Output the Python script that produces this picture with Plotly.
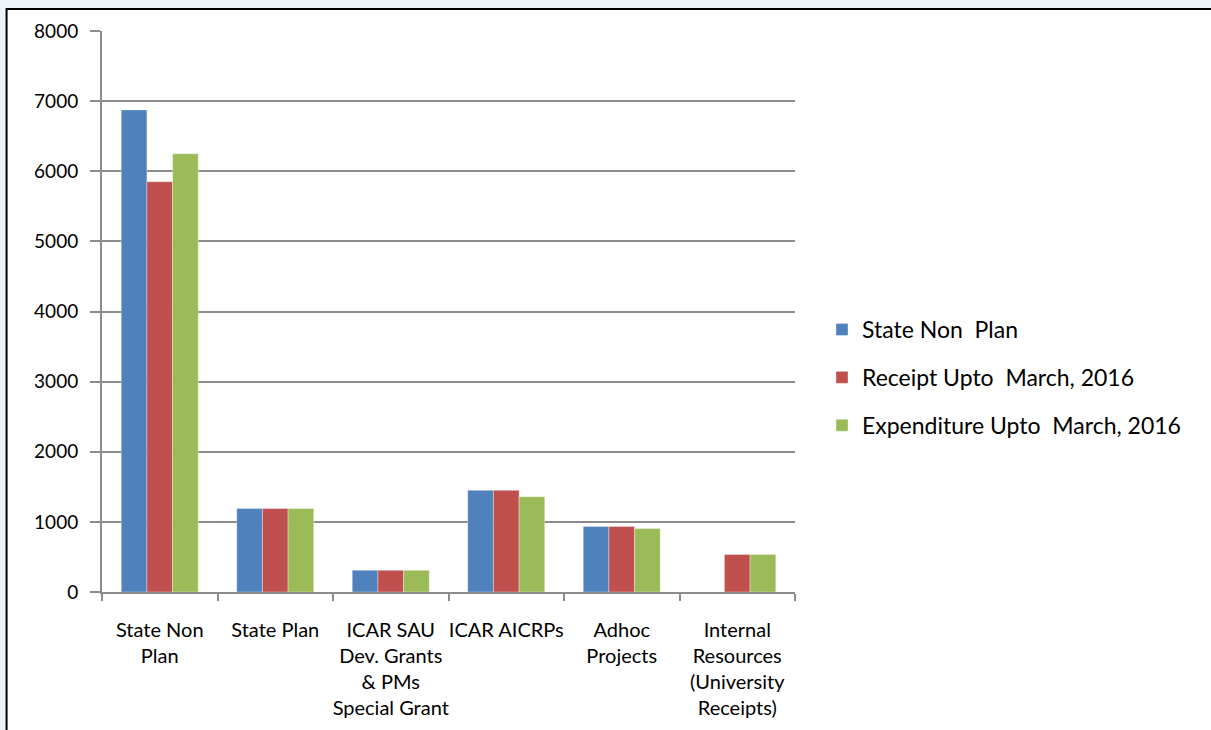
import plotly.graph_objects as go

# ---- data ----
categories = [
    "State Non<br>Plan",
    "State Plan",
    "ICAR SAU<br>Dev. Grants<br>& PMs<br>Special Grant",
    "ICAR AICRPs",
    "Adhoc<br>Projects",
    "Internal<br>Resources<br>(University<br>Receipts)",
]
state_non_plan = [6875, 1190, 310, 1450, 935, 0]
receipt_2016 = [5850, 1190, 310, 1450, 935, 535]
expenditure_2016 = [6250, 1190, 310, 1360, 905, 535]

series_names = [
    "State Non  Plan",
    "Receipt Upto  March, 2016",
    "Expenditure Upto  March, 2016",
]
series_colors = ["#4F81BD", "#C0504D", "#9BBB59"]

FONT = "Lato, 'Open Sans', sans-serif"
PAGE_BG = "#eef4fa"

fig = go.Figure()
for name, vals, col in zip(series_names,
                           [state_non_plan, receipt_2016, expenditure_2016],
                           series_colors):
    fig.add_trace(go.Bar(
        x=categories, y=vals, name=name,
        marker=dict(color=col, line=dict(color="rgba(255,255,255,0.35)", width=1)),
        legendgroup=name,
    ))

# plot area in pixels: x 101.5..795, y 31..592
W, H = 1211, 730
L, R, T, B = 101.5, 795, 31, 592
pw, ph = R - L, B - T

# white panel with black frame (starts at x=6, y=9, runs off the page)
fig.add_shape(
    type="rect", xref="paper", yref="paper", layer="below",
    x0=(6 - L) / pw, x1=(W + 10 - L) / pw,
    y0=(B - (H + 10)) / ph, y1=(B - 9) / ph,
    fillcolor="white", line=dict(color="black", width=2),
)

fig.update_layout(
    width=W, height=H,
    margin=dict(l=L, r=W - R, t=T, b=H - B, pad=0),
    paper_bgcolor=PAGE_BG,
    plot_bgcolor="rgba(0,0,0,0)",
    barmode="group",
    bargap=0.333,
    bargroupgap=0,
    font=dict(family=FONT, color="black"),
    legend=dict(
        x=(822 - L) / pw, y=(B - 308) / ph,
        xanchor="left", yanchor="top",
        font=dict(size=23, family=FONT),
        tracegroupgap=15,
        bgcolor="rgba(0,0,0,0)",
        itemwidth=30,
    ),
    showlegend=True,
)

fig.update_yaxes(
    range=[0, 8000], dtick=1000,
    showgrid=True, gridcolor="#8c8c8c", gridwidth=2,
    showline=True, linecolor="#8c8c8c", linewidth=2,
    ticks="outside", ticklen=10, tickcolor="#8c8c8c", tickwidth=2,
    tickfont=dict(size=19, family=FONT),
    ticklabelstandoff=8,
    zeroline=False,
)
fig.update_xaxes(
    showline=True, linecolor="#8c8c8c", linewidth=2,
    ticks="outside", ticklen=7, tickcolor="#8c8c8c", tickwidth=2,
    tickson="boundaries",
    tickfont=dict(size=20, family=FONT),
    ticklabelstandoff=19,
    tickangle=0,
)

# drop the browser's default body margin so the figure sits at (0, 0)
fig.write_html(
    "out.html",
    config={"displayModeBar": False},
    post_script="document.body.style.margin='0';"
                "document.body.style.background='%s';" % PAGE_BG,
)
